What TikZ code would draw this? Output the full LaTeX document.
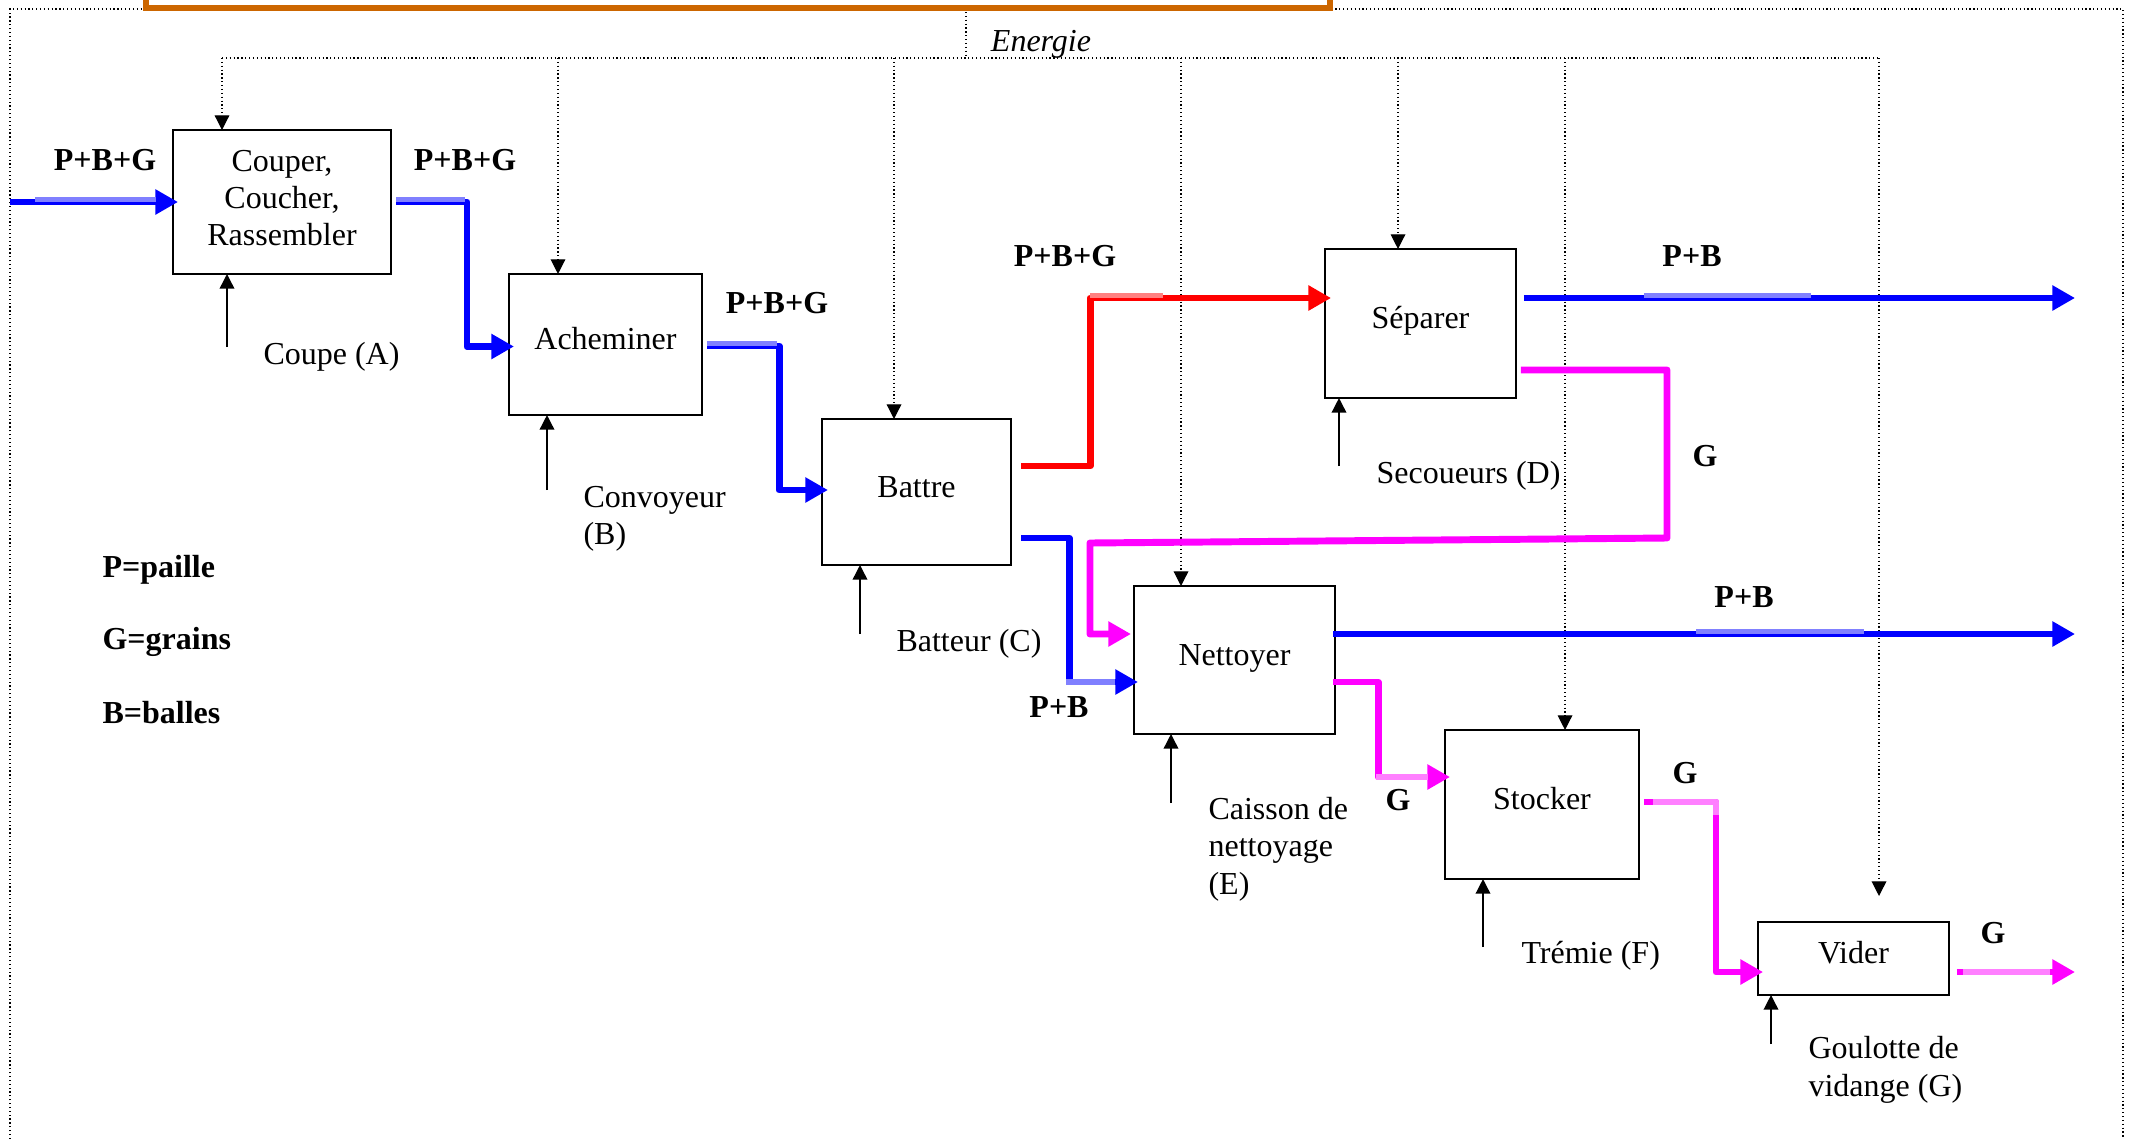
\documentclass[tikz,border=0pt]{standalone}
\usepackage{fontspec}
\setmainfont{Liberation Serif}
\usetikzlibrary{arrows.meta,calc}
\definecolor{flowblue}{RGB}{0,0,255}
\definecolor{liteblue}{RGB}{128,128,255}
\definecolor{flowred}{RGB}{255,0,0}
\definecolor{litered}{RGB}{255,128,128}
\definecolor{flowmag}{RGB}{255,0,255}
\definecolor{litemag}{RGB}{255,128,255}
\definecolor{frameorange}{RGB}{204,102,0}

\begin{document}
\begin{tikzpicture}[x=0.375pt,y=-0.375pt,font={\fontsize{12pt}{14pt}\selectfont},
box/.style={draw,line width=.6pt,align=center,inner sep=0pt,outer sep=0pt},
oneline/.style={text height=8pt,text depth=4pt},
flow/.style={line width=2.6pt,line join=round},
flowarr/.style={flow,-{Triangle[length=8.5pt,width=9pt]}},
lite/.style={line width=1.8pt},
mech/.style={-{Triangle[length=5.5pt,width=5.5pt]},line width=.55pt},
energy/.style={densely dotted,line width=.45pt},
edrop/.style={energy,-{Triangle[length=5.5pt,width=5.5pt]}},
lbl/.style={font={\fontsize{12pt}{14pt}\selectfont\bfseries}},
txt/.style={align=left,anchor=west,inner sep=0pt}]
\useasboundingbox (0,0) rectangle (2134,1139);

% cadre
\draw[energy] (10,1139) -- (10,9) -- (2123,9) -- (2123,1139);
\draw[frameorange,line width=2pt] (146,-5) -- (146,8) -- (1330,8) -- (1330,-5);

% fonctions
\node[box,minimum width=81.75pt,minimum height=54pt] (couper) at (282,202) {Couper,\\Coucher,\\Rassembler\\[-11pt]};
\node[box,oneline,minimum width=72.4pt,minimum height=52.9pt] (achem) at (605.5,344.5) {Acheminer};
\node[box,oneline,minimum width=70.9pt,minimum height=54.75pt] (battre) at (916.5,492) {Battre};
\node[box,oneline,minimum width=71.6pt,minimum height=55.9pt] (separer) at (1420.5,323.5) {Séparer};
\node[box,oneline,minimum width=75.4pt,minimum height=55.5pt] (nettoyer) at (1234.5,660) {Nettoyer};
\node[box,oneline,minimum width=72.75pt,minimum height=55.9pt] (stocker) at (1542,804.5) {Stocker};
\node[box,oneline,minimum width=71.6pt,minimum height=27.4pt] (vider) at (1853.5,958.5) {Vider};

% energie
\coordinate (eTop) at (966,12);
\coordinate (eMid) at (966,58);
\coordinate (eA) at (222,58);
\coordinate (eB) at (558,58);
\coordinate (eC) at (894,58);
\coordinate (eE) at (1181,58);
\coordinate (eD) at (1398,58);
\coordinate (eF) at (1565,58);
\coordinate (eG) at (1879,58);
\coordinate (eGend) at (1879,896);
\draw[energy] (eTop) -- (eMid);
\draw[energy] (eA) -- (eG);
\node[font={\fontsize{12pt}{14pt}\selectfont\itshape}] (energie) at (1041,44) {Energie};
\foreach \c/\b in {eA/couper,eB/achem,eC/battre,eD/separer,eE/nettoyer,eF/stocker}{
 \draw[edrop] (\c) -- (\b.north -| \c);
}
\draw[edrop] (eG) -- (eGend);

% supports
\coordinate (mA) at (227,347);
\coordinate (mB) at (547,490);
\coordinate (mC) at (860,634);
\coordinate (mD) at (1339,466);
\coordinate (mE) at (1171,803);
\coordinate (mF) at (1483,947);
\coordinate (mG) at (1771,1044);
\foreach \m/\b in {mA/couper,mB/achem,mC/battre,mD/separer,mE/nettoyer,mF/stocker,mG/vider}{
 \draw[mech] (\m) -- (\b.south -| \m);
}
\node[txt] (supA) at (263,357) {Coupe (A)};
\node[txt] (supB) at (583,519) {Convoyeur\\(B)};
\node[txt] (supC) at (896,644) {Batteur (C)};
\node[txt] (supD) at (1376,476) {Secoueurs (D)};
\node[txt] (supE) at (1208,849) {Caisson de\\nettoyage\\(E)};
\node[txt] (supF) at (1521,956) {Trémie (F)};
\node[txt] (supG) at (1808,1070) {Goulotte de\\vidange (G)};

% flux
\coordinate (inPBG) at (10,202);
\coordinate (outD) at (2075,298);
\coordinate (outE) at (2075,634);
\coordinate (outG) at (2075,972);
\draw[flowarr,flowblue] (inPBG) -- ($(couper.west)+(5,0)$);
\draw[lite,liteblue] (35,199.5) -- (156,199.5);
\draw[flowarr,flowblue] ($(couper.east)+(5,0)$) -- ++(71,0) |- ($(achem.west)+(5,2)$);
\draw[lite,liteblue] (396,199.5) -- (465,199.5);
\draw[flowarr,flowblue] ($(achem.east)+(5,1.5)$) -- ++(72,0) |- ($(battre.west)+(6,-2)$);
\draw[lite,liteblue] (707,343.5) -- (777,343.5);
\draw[flowarr,flowred] ($(battre.east)+(10,-26)$) -- ++(69,0) |- ($(separer.west)+(6,-25.5)$);
\draw[lite,litered] (1090,295.5) -- (1163,295.5);
\draw[flowarr,flowblue] ($(separer.east |- outD)+(8,0)$) -- (outD);
\draw[lite,liteblue] (1644,295.5) -- (1811,295.5);
\draw[flowarr,flowmag] ($(separer.east)+(5,46.5)$) -- ++(146,0) -- ++(0,168) -- ++(-577,5) |- ($(nettoyer.west)+(-3,-26)$);
\draw[flowarr,flowblue] ($(battre.east)+(10,46)$) -- ++(48,0) |- ($(nettoyer.west)+(4,22)$);
\draw[flow,liteblue] (1066,682) -- (1115,682);
\draw[flowarr,flowblue] ($(nettoyer.east |- outE)+(-2,0)$) -- (outE);
\draw[lite,liteblue] (1696,631.5) -- (1864,631.5);
\draw[flowarr,flowmag] ($(nettoyer.east)+(-2,22)$) -- ++(45,0) |- ($(stocker.west)+(5,-27.5)$);
\draw[flow,litemag] (1376,777) -- (1428,777);
\draw[flowarr,flowmag] ($(stocker.east)+(5,-2.5)$) -- ++(72,0) |- ($(vider.west)+(5,13.5)$);
\draw[flow,litemag] (1653,802) -- (1716,802) -- (1716,815);
\draw[flowarr,flowmag] ($(vider.east |- outG)+(8,0)$) -- (outG);
\draw[flow,litemag] (1963,972) -- (2050,972);

% etiquettes
\node[lbl] (fIn) at (105,160) {P+B+G};
\node[lbl] (fA) at (465,160) {P+B+G};
\node[lbl] (fB) at (777,303) {P+B+G};
\node[lbl] (fC) at (1065,256) {P+B+G};
\node[lbl] (fD) at (1692,256) {P+B};
\node[lbl] (fDg) at (1705,456) {G};
\node[lbl] (fCb) at (1059,707) {P+B};
\node[lbl] (fE) at (1744,597) {P+B};
\node[lbl] (fEg) at (1398,800) {G};
\node[lbl] (fF) at (1685,773) {G};
\node[lbl] (fG) at (1993,933) {G};

% legende
\node[lbl,anchor=west,inner sep=0pt] (legP) at (102,570) {P=paille};
\node[lbl,anchor=west,inner sep=0pt] (legG) at (102,642) {G=grains};
\node[lbl,anchor=west,inner sep=0pt] (legB) at (102,713) {B=balles};
\end{tikzpicture}
\end{document}
